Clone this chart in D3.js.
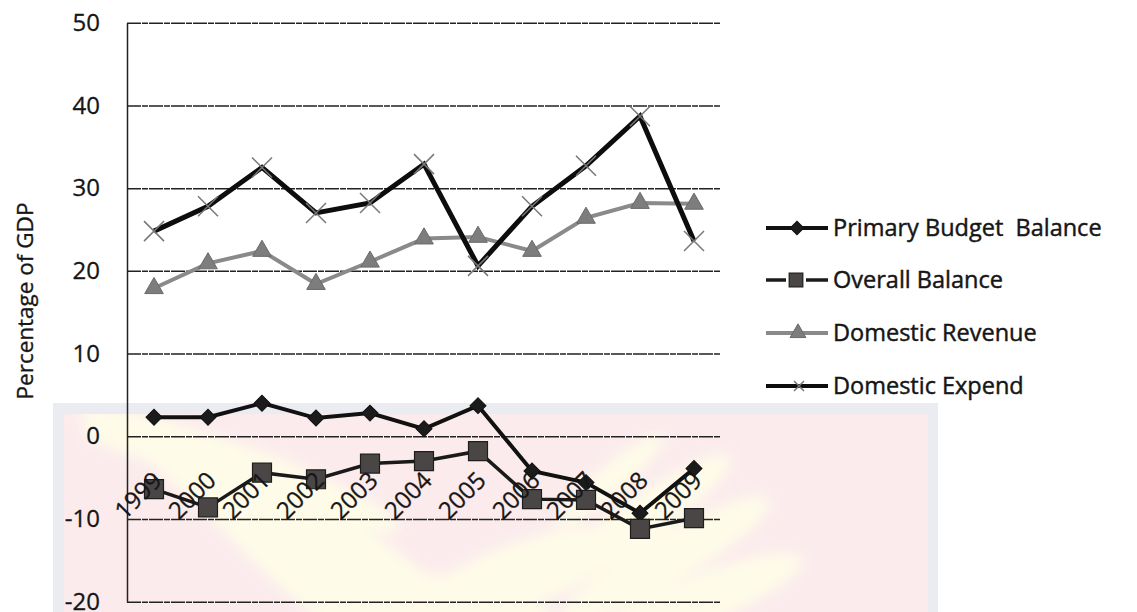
<!DOCTYPE html>
<html>
<head>
<meta charset="utf-8">
<script src="https://cdn.jsdelivr.net/npm/d3@7"></script>
<style>
  body { margin: 0; background: #fff; }
  svg { display: block; }
  text { font-family: "Open Sans", "Noto Sans", sans-serif; fill: #161616; }
</style>
</head>
<body>
<svg id="chart" width="1137" height="612"></svg>
<script>
// Fiscal indicators, percentage of GDP
const years = ["1999", "2000", "2001", "2002", "2003", "2004", "2005", "2006", "2007", "2008", "2009"];
const primaryBudget   = [2.3, 2.3, 4.0, 2.2, 2.8, 0.9, 3.7, -4.2, -5.6, -9.3, -3.9];
const overallBalance  = [-6.4, -8.6, -4.4, -5.2, -3.3, -3.0, -1.8, -7.6, -7.7, -11.2, -9.9];
const domesticRevenue = [17.9, 20.9, 22.4, 18.4, 21.1, 23.9, 24.1, 22.4, 26.4, 28.2, 28.1];
const domesticExpend  = [24.8, 27.8, 32.5, 27.0, 28.2, 32.9, 20.6, 27.8, 32.7, 38.7, 23.6];
const yTicks = [-20, -10, 0, 10, 20, 30, 40, 50];
const seriesNames = ["Primary Budget  Balance", "Overall Balance", "Domestic Revenue", "Domestic Expend"];

const svg = d3.select("#chart");
const plot = { left: 127, right: 721, top: 22.7, bottom: 601.7 };

const x = d3.scalePoint().domain(years).range([plot.left, plot.right]).padding(0.5);
const y = d3.scaleLinear().domain([-20, 50]).range([plot.bottom, plot.top]);

// ---- background emblem (pale panel with soft wing shapes) ----
const defs = svg.append("defs");
defs.append("filter").attr("id", "soft").attr("x", "-30%").attr("y", "-30%").attr("width", "160%").attr("height", "160%")
  .append("feGaussianBlur").attr("stdDeviation", 7);
defs.append("clipPath").attr("id", "panelClip")
  .append("rect").attr("x", 64).attr("y", 414).attr("width", 864).attr("height", 198);

const bg = svg.append("g");
bg.append("rect").attr("x", 53).attr("y", 403).attr("width", 885).attr("height", 209).attr("fill", "#eaecf2");
bg.append("rect").attr("x", 64).attr("y", 414).attr("width", 864).attr("height", 198).attr("fill", "#fbebed");
const wings = bg.append("g").attr("clip-path", "url(#panelClip)").append("g").attr("filter", "url(#soft)");
const feathers = [
  [240, 470, 170, 24, 20], [270, 505, 190, 26, 28], [300, 545, 200, 28, 34], [330, 590, 190, 30, 40],
  [200, 455, 120, 18, 12], [420, 600, 140, 28, 10], [520, 575, 110, 32, -20],
  [640, 520, 110, 22, -35], [665, 560, 120, 24, -30], [700, 600, 110, 24, -22], [610, 480, 70, 14, -40]
];
feathers.forEach(([cx, cy, rx, ry, a]) => {
  wings.append("ellipse").attr("cx", cx).attr("cy", cy).attr("rx", rx).attr("ry", ry)
    .attr("transform", `rotate(${a},${cx},${cy})`).attr("fill", "#fefce8");
});

// ---- gridlines and axis ----
const grid = svg.append("g").attr("transform", `translate(${plot.left},0)`)
  .call(d3.axisRight(y).tickValues(yTicks).tickSize(plot.right - plot.left).tickFormat(""));
grid.select(".domain").remove();
grid.selectAll(".tick line").attr("stroke", "#222").attr("stroke-width", 1.5).attr("stroke-dasharray", "14 1 6 1");

const yAxis = svg.append("g").attr("transform", `translate(${plot.left},0)`)
  .call(d3.axisLeft(y).tickValues(yTicks).tickSize(0).tickPadding(27).tickFormat(d => String(d)));
yAxis.select(".domain").attr("stroke", "#222").attr("stroke-width", 1.5);
yAxis.selectAll("text").attr("font-size", 24).attr("fill", "#161616")
  .attr("stroke", "#161616").attr("stroke-width", 0.3)
  .style("font-family", '"Open Sans", sans-serif');

svg.append("text")
  .attr("transform", `translate(33,301) rotate(-90)`)
  .attr("text-anchor", "middle")
  .attr("font-size", 22.5)
  .attr("stroke", "#161616").attr("stroke-width", 0.35)
  .text("Percentage of GDP");

// ---- markers ----
function drawMarker(g, kind, cx, cy, scale = 1) {
  if (kind === "diamond") {
    g.append("path").attr("d", d3.symbol(d3.symbolSquare, 128 * scale * scale)())
      .attr("transform", `translate(${cx},${cy}) rotate(45)`)
      .attr("fill", "#1b1b1b").attr("stroke", "#111").attr("stroke-width", 1);
  } else if (kind === "square") {
    g.append("path").attr("d", d3.symbol(d3.symbolSquare, 360 * scale * scale)())
      .attr("transform", `translate(${cx},${cy})`)
      .attr("fill", "#4a4646").attr("stroke", "#1e1e1e").attr("stroke-width", 1.2);
  } else if (kind === "triangle") {
    g.append("path").attr("d", d3.symbol(d3.symbolTriangle, 150 * scale * scale)())
      .attr("transform", `translate(${cx},${cy})`)
      .attr("fill", "#7d7d7d").attr("stroke", "#6a6a6a").attr("stroke-width", 1);
  } else if (kind === "cross") {
    const r = 10 * scale;
    g.append("path").attr("d", `M${cx - r},${cy - r}L${cx + r},${cy + r}M${cx - r},${cy + r}L${cx + r},${cy - r}`)
      .attr("stroke", "#777").attr("stroke-width", 1.5).attr("fill", "none");
  }
}

const series = [
  { name: seriesNames[0], values: primaryBudget,   color: "#111",    width: 4,   marker: "diamond" },
  { name: seriesNames[1], values: overallBalance,  color: "#1a1a1a", width: 3.5, marker: "square" },
  { name: seriesNames[2], values: domesticRevenue, color: "#8a8a8a", width: 4,   marker: "triangle" },
  { name: seriesNames[3], values: domesticExpend,  color: "#0d0d0d", width: 5,   marker: "cross" }
];

const line = d3.line().x((d, i) => x(years[i])).y(d => y(d));
series.forEach(s => {
  const g = svg.append("g");
  g.append("path").datum(s.values).attr("d", line)
    .attr("fill", "none").attr("stroke", s.color).attr("stroke-width", s.width)
    .attr("stroke-linejoin", "miter");
  s.values.forEach((v, i) => drawMarker(g, s.marker, x(years[i]), y(v)));
});

// ---- category labels, rotated ----
const xAxis = svg.append("g").attr("transform", `translate(3,476)`)
  .call(d3.axisBottom(x).tickSize(0).tickPadding(0));
xAxis.select(".domain").remove();
xAxis.selectAll("text")
  .attr("y", 0).attr("dy", "0.35em")
  .attr("text-anchor", "end")
  .attr("transform", "rotate(-45)")
  .attr("font-size", 24).attr("fill", "#161616")
  .attr("stroke", "#161616").attr("stroke-width", 0.3)
  .style("font-family", '"Open Sans", sans-serif');

// ---- legend ----
const legendY = [228, 280, 333, 386];
const legend = svg.append("g");
series.forEach((s, i) => {
  const ly = legendY[i];
  const g = legend.append("g");
  g.append("line").attr("x1", 766).attr("x2", 828).attr("y1", ly).attr("y2", ly)
    .attr("stroke", s.color).attr("stroke-width", Math.min(s.width, 4));
  if (s.marker === "square") {
    g.append("rect").attr("x", 786).attr("y", ly - 8).attr("width", 20).attr("height", 16).attr("fill", "#fff");
    drawMarker(g, "square", 796, ly, 0.72);
  } else if (s.marker === "cross") {
    drawMarker(g, "cross", 799, ly, 0.5);
  } else {
    drawMarker(g, s.marker, s.marker === "diamond" ? 797 : 798, ly, 0.85);
  }
  g.append("text").attr("x", 833).attr("y", ly).attr("dy", "0.35em")
    .attr("font-size", 23.5).attr("xml:space", "preserve").style("white-space", "pre")
    .attr("stroke", "#161616").attr("stroke-width", 0.45)
    .text(s.name);
});
</script>
</body>
</html>
